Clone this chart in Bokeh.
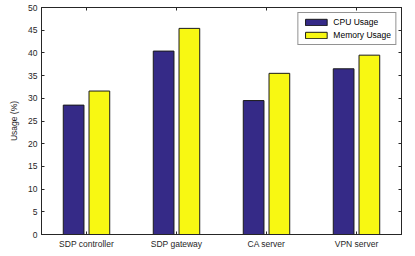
from bokeh.plotting import figure
from bokeh.models import (ColumnDataSource, FixedTicker, LinearAxis, Range1d,
                          Legend, LegendItem)
from bokeh.transform import dodge
from bokeh.embed import file_html
from bokeh.resources import INLINE

categories = ["SDP controller", "SDP gateway", "CA server", "VPN server"]
cpu_usage = [28.5, 40.4, 29.5, 36.5]
memory_usage = [31.6, 45.4, 35.5, 39.5]
y_ticks = [0, 5, 10, 15, 20, 25, 30, 35, 40, 45, 50]

FONT = "Liberation Sans"
FS = "8.5px"

positions = list(range(1, len(categories) + 1))
src = ColumnDataSource(dict(x=positions, cpu=cpu_usage, mem=memory_usage))

p = figure(width=415, height=256, output_backend="svg", toolbar_location=None,
           x_range=Range1d(0.5, 4.5), y_range=Range1d(0, 50),
           min_border_left=41, min_border_right=14, min_border_top=7,
           min_border_bottom=22)
p.xgrid.visible = False
p.ygrid.visible = False
p.outline_line_color = "#262626"
p.outline_line_width = 1
p.background_fill_color = "white"

bw = 0.23
r1 = p.vbar(x=dodge("x", -0.143, range=p.x_range), top="cpu", width=bw,
            source=src, fill_color="#352A87", line_color="#1a1a1a", line_width=1)
r2 = p.vbar(x=dodge("x", 0.143, range=p.x_range), top="mem", width=bw,
            source=src, fill_color="#F8F812", line_color="#1a1a1a", line_width=1)

xt = FixedTicker(ticks=positions)
overrides = {i: c for i, c in zip(positions, categories)}

ax = p.xaxis[0]
ax.ticker = xt
ax.major_label_overrides = overrides
ay = p.yaxis[0]
ay.ticker = FixedTicker(ticks=y_ticks)
ay.axis_label = "Usage (%)"

for a in (ax, ay):
    a.major_tick_in = 3
    a.major_tick_out = 0
    a.minor_tick_in = 0
    a.minor_tick_out = 0
    a.axis_line_color = "#262626"
    a.major_tick_line_color = "#262626"
    a.major_label_text_font = FONT
    a.major_label_text_font_size = FS
    a.major_label_text_color = "#262626"
    a.axis_label_text_font = FONT
    a.axis_label_text_font_size = FS
    a.axis_label_text_font_style = "normal"
    a.axis_label_text_color = "#262626"
ax.major_label_standoff = 4
ay.major_label_standoff = 4
ay.axis_label_standoff = 6


def mirror_axis(ticks):
    a = LinearAxis(ticker=FixedTicker(ticks=ticks),
                   major_label_overrides={t: "" for t in ticks},
                   major_tick_in=3, major_tick_out=0, minor_tick_in=0,
                   minor_tick_out=0, axis_line_color="#262626",
                   major_tick_line_color="#262626")
    a.major_label_standoff = 0
    return a


p.add_layout(mirror_axis(y_ticks), "right")
p.add_layout(mirror_axis(positions), "above")

legend = Legend(items=[LegendItem(label="CPU Usage", renderers=[r1]),
                       LegendItem(label="Memory Usage", renderers=[r2])],
                location="top_right")
legend.margin = 5
legend.padding = 4
legend.spacing = 3
legend.glyph_width = 27
legend.glyph_height = 8
legend.label_height = 8
legend.label_standoff = 4
legend.label_text_font = FONT
legend.label_text_font_size = FS
legend.label_text_color = "black"
legend.border_line_color = "#262626"
legend.border_line_width = 1
legend.background_fill_alpha = 1
p.add_layout(legend)

open("out.html", "w").write(file_html(p, INLINE))
